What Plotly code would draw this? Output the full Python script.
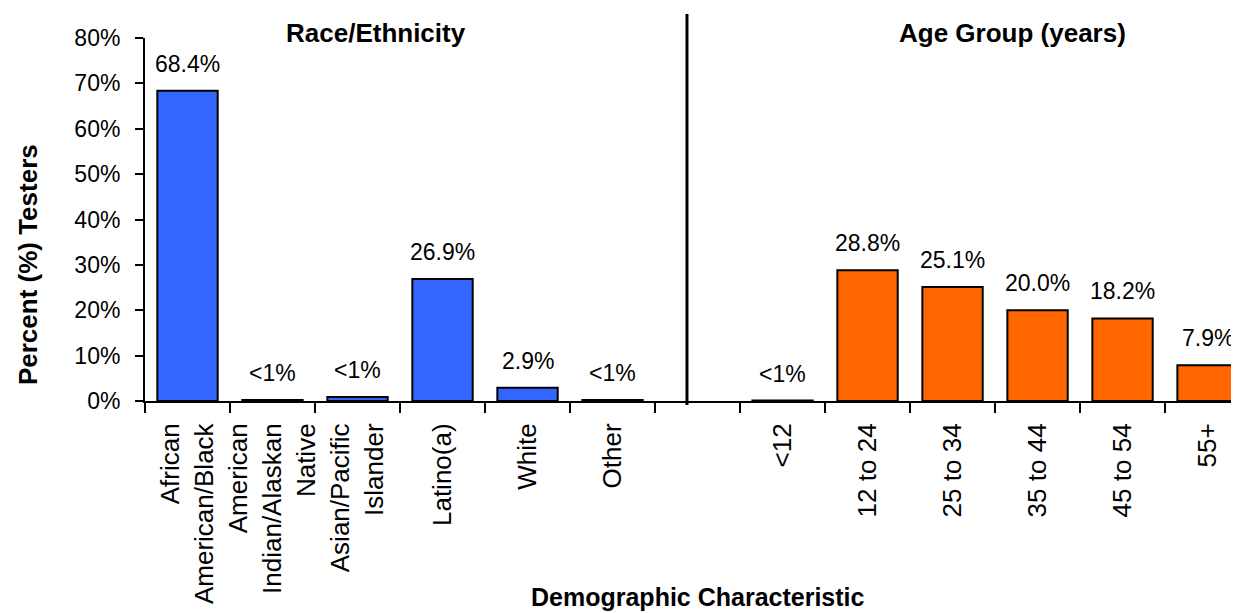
import plotly.graph_objects as go

# ---- data ----
race_categories = ["African<br>American/Black", "American<br>Indian/Alaskan<br>Native",
                   "Asian/Pacific<br>Islander", "Latino(a)", "White", "Other"]
race_values = [68.4, 0.2, 0.9, 26.9, 2.9, 0.2]
race_labels = ["68.4%", "<1%", "<1%", "26.9%", "2.9%", "<1%"]

age_categories = ["<12", "12 to 24", "25 to 34", "35 to 44", "45 to 54", "55+"]
age_values = [0.1, 28.8, 25.1, 20.0, 18.2, 7.9]
age_labels = ["<1%", "28.8%", "25.1%", "20.0%", "18.2%", "7.9%"]

gap_category = [" "]

y_ticks = [0, 10, 20, 30, 40, 50, 60, 70, 80]
y_ticktext = [f"{v}%" for v in y_ticks]

# ---- build ----
categories = race_categories + gap_category + age_categories
values = race_values + [None] + age_values
labels = race_labels + [""] + age_labels
BLUE = "#3366FF"
ORANGE = "#FF6600"
colors = [BLUE] * len(race_categories) + ["rgba(0,0,0,0)"] + [ORANGE] * len(age_categories)

FONT = "Liberation Sans, Arial, sans-serif"

fig = go.Figure()
fig.add_trace(go.Bar(
    x=categories, y=values, width=0.71,
    marker=dict(color=colors, line=dict(color="black", width=2)),
    hoverinfo="x+y", showlegend=False,
))

for c, v, t in zip(categories, values, labels):
    if v is None:
        continue
    fig.add_annotation(x=c, y=v, text=t, showarrow=False, xref="x", yref="y",
                       yanchor="bottom", yshift=12,
                       font=dict(family=FONT, size=23, color="black"))

TITLE_SIZE = 26
# group titles
fig.add_annotation(x=0.211, y=1.014, xref="paper", yref="paper", text="<b>Race/Ethnicity</b>",
                   showarrow=False, xanchor="center", yanchor="middle",
                   font=dict(family=FONT, size=TITLE_SIZE, color="black"))
fig.add_annotation(x=0.793, y=1.014, xref="paper", yref="paper", text="<b>Age Group (years)</b>",
                   showarrow=False, xanchor="center", yanchor="middle",
                   font=dict(family=FONT, size=TITLE_SIZE, color="black"))
# axis titles
fig.add_annotation(x=-0.107, y=0.377, xref="paper", yref="paper", text="<b>Percent (%) Testers</b>",
                   showarrow=False, textangle=-90, xanchor="center", yanchor="middle",
                   font=dict(family=FONT, size=TITLE_SIZE, color="black"))
fig.add_annotation(x=0.5055, y=-0.541, xref="paper", yref="paper",
                   text="<b>Demographic Characteristic</b>",
                   showarrow=False, xanchor="center", yanchor="middle",
                   font=dict(family=FONT, size=25, color="black"))

# separator line between groups
fig.add_shape(type="line", xref="x", yref="paper", x0=5.876, x1=5.876, y0=-0.011, y1=1.066,
              line=dict(color="black", width=3))

fig.update_layout(
    width=1231, height=605,
    margin=dict(l=137, r=0, t=30, b=212),
    plot_bgcolor="white", paper_bgcolor="white",
    font=dict(family=FONT, size=23, color="black"),
)
fig.update_xaxes(
    type="category", categoryorder="array", categoryarray=categories,
    range=[-0.5, 12.37], tickson="boundaries", ticks="outside", ticklen=10,
    tickwidth=2, tickcolor="black", tickangle=-90, showline=True, linecolor="black",
    linewidth=2, showgrid=False, ticklabelstandoff=10,
    tickfont=dict(family=FONT, size=26, color="black"),
)
fig.update_yaxes(
    range=[0, 80], tickvals=y_ticks, ticktext=y_ticktext, ticks="outside", ticklen=8,
    tickwidth=2, tickcolor="black", showline=True, linecolor="black", linewidth=2,
    showgrid=False, zeroline=False, ticklabelstandoff=10,
    tickfont=dict(family=FONT, size=23, color="black"),
)

fig.write_html("out.html")
